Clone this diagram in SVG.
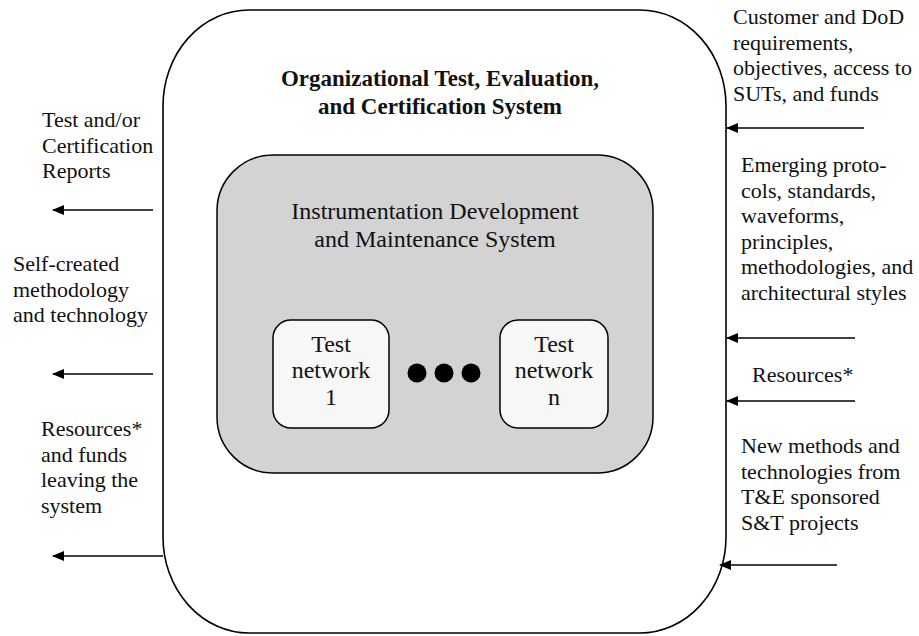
<svg xmlns="http://www.w3.org/2000/svg" width="919" height="636" viewBox="0 0 919 636">
<defs>
<style>
text{font-family:"Liberation Serif","Times New Roman",serif;fill:#111;}
.lbl{font-size:22px;}
.title{font-size:23px;font-weight:bold;text-anchor:middle;}
.sub{font-size:24px;text-anchor:middle;}
.box{font-size:24px;text-anchor:middle;}
.edge{stroke:#000;stroke-width:1.6;fill:none;marker-end:url(#ah);}
</style>
<marker id="ah" viewBox="0 0 12 10" refX="11" refY="5" markerWidth="12" markerHeight="10" markerUnits="userSpaceOnUse" orient="auto">
<path d="M0,0 L12,5 L0,10 Z" fill="#000"/>
</marker>
</defs>
<rect width="919" height="636" fill="#fff"/>
<g id="outer">
<rect x="163" y="10" width="563" height="623" rx="86" ry="96" fill="#fff" stroke="#000" stroke-width="1.6"/>
<text class="title" x="440" y="86">Organizational Test, Evaluation,</text>
<text class="title" x="440" y="114">and Certification System</text>
</g>
<g id="instrumentation">
<rect x="217" y="155" width="436" height="318" rx="56" ry="56" fill="#d3d3d3" stroke="#000" stroke-width="1.5"/>
<text class="sub" x="435" y="219">Instrumentation Development</text>
<text class="sub" x="435" y="247">and Maintenance System</text>
</g>
<g id="test-network-1">
<rect x="273" y="320" width="116" height="108" rx="18" ry="18" fill="#f7f7f7" stroke="#000" stroke-width="1.5"/>
<text class="box" x="331" y="352">Test</text>
<text class="box" x="331" y="378">network</text>
<text class="box" x="331" y="405">1</text>
</g>
<g id="ellipsis">
<circle cx="417" cy="373" r="9.5" fill="#000"/>
<circle cx="444" cy="373" r="9.5" fill="#000"/>
<circle cx="471" cy="373" r="9.5" fill="#000"/>
</g>
<g id="test-network-n">
<rect x="500" y="320" width="108" height="108" rx="18" ry="18" fill="#f7f7f7" stroke="#000" stroke-width="1.5"/>
<text class="box" x="554" y="352">Test</text>
<text class="box" x="554" y="378">network</text>
<text class="box" x="554" y="405">n</text>
</g>
<g id="label-reports">
<text class="lbl" x="42" y="127">Test and/or</text>
<text class="lbl" x="42" y="152.5">Certification</text>
<text class="lbl" x="42" y="178">Reports</text>
</g>
<g id="label-self-created">
<text class="lbl" x="13" y="271">Self-created</text>
<text class="lbl" x="13" y="296.5">methodology</text>
<text class="lbl" x="13" y="322">and technology</text>
</g>
<g id="label-resources-out">
<text class="lbl" x="41" y="436">Resources*</text>
<text class="lbl" x="41" y="461.5">and funds</text>
<text class="lbl" x="41" y="487">leaving the</text>
<text class="lbl" x="41" y="512.5">system</text>
</g>
<g id="label-customer">
<text class="lbl" x="733" y="24">Customer and DoD</text>
<text class="lbl" x="733" y="49.5">requirements,</text>
<text class="lbl" x="733" y="75">objectives, access to</text>
<text class="lbl" x="733" y="100.5">SUTs, and funds</text>
</g>
<g id="label-emerging">
<text class="lbl" x="741" y="172">Emerging proto-</text>
<text class="lbl" x="741" y="197.5">cols, standards,</text>
<text class="lbl" x="741" y="223">waveforms,</text>
<text class="lbl" x="741" y="248.5">principles,</text>
<text class="lbl" x="741" y="274">methodologies, and</text>
<text class="lbl" x="741" y="299.5">architectural styles</text>
</g>
<g id="label-resources-in">
<text class="lbl" x="752" y="382">Resources*</text>
</g>
<g id="label-new-methods">
<text class="lbl" x="741" y="453">New methods and</text>
<text class="lbl" x="741" y="478.5">technologies from</text>
<text class="lbl" x="741" y="504">T&amp;E sponsored</text>
<text class="lbl" x="741" y="529.5">S&amp;T projects</text>
</g>
<g id="connectors">
<line class="edge" x1="153" y1="210" x2="53" y2="210"/>
<line class="edge" x1="153" y1="374" x2="53" y2="374"/>
<line class="edge" x1="163" y1="556" x2="53" y2="556"/>
<line class="edge" x1="864" y1="128" x2="727" y2="128"/>
<line class="edge" x1="855" y1="338" x2="727" y2="338"/>
<line class="edge" x1="855" y1="401" x2="727" y2="401"/>
<line class="edge" x1="837" y1="565" x2="720" y2="565"/>
</g>
</svg>
